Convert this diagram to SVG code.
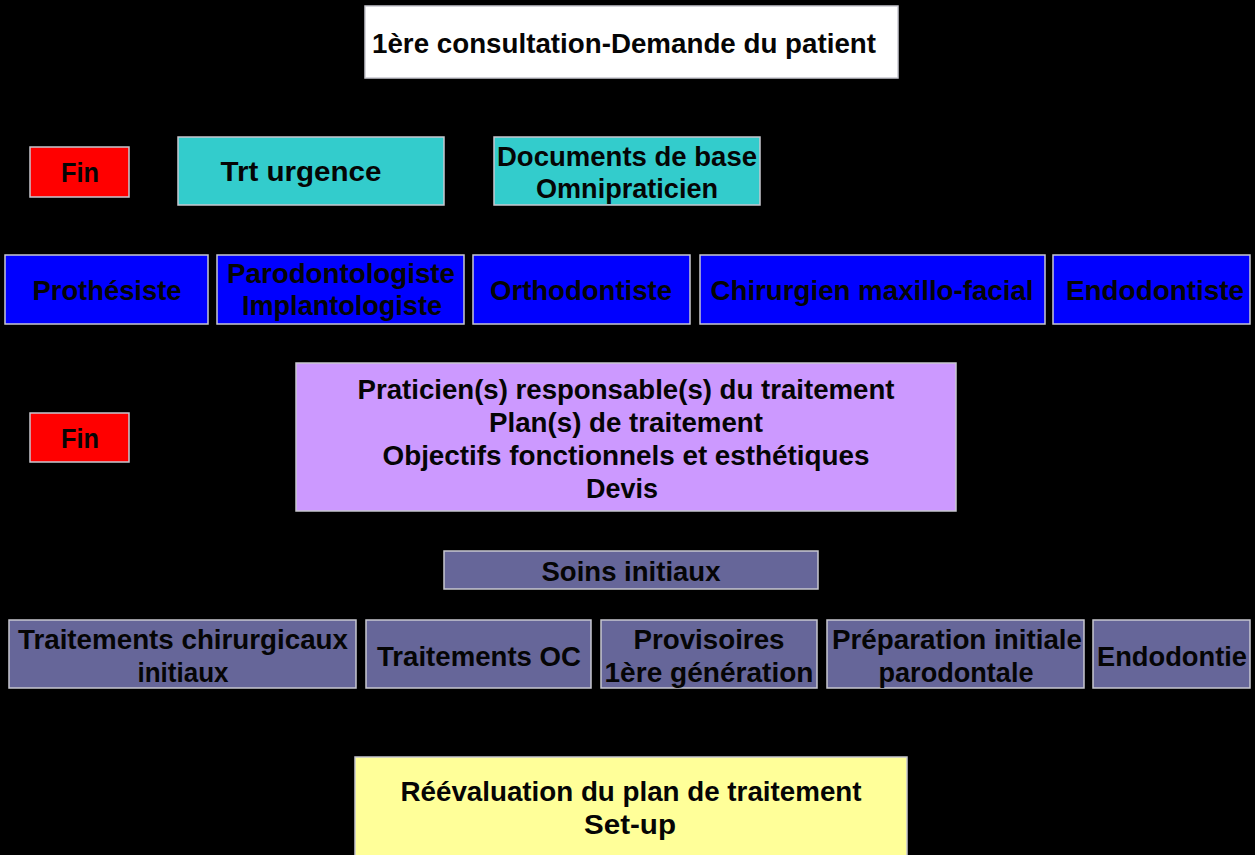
<svg xmlns="http://www.w3.org/2000/svg" width="1255" height="855" viewBox="0 0 1255 855">
<style>
.b{stroke:#c8c8d0;stroke-width:1.5}
.t{font-family:"Liberation Sans",Arial,sans-serif;font-weight:bold;font-size:28px;fill:#050505;text-anchor:middle}
.w{fill:#ffffff}.r{fill:#ff0000}.c{fill:#33cccc}.bl{fill:#0000ff}.p{fill:#cc99ff}.s{fill:#666699}.y{fill:#ffff99}
</style>
<rect width="1255" height="855" fill="#000"/>
<g id="connectors"/>
<g id="n-consult"><rect class="b w" x="365" y="6" width="533" height="72"/><text class="t" x="624" y="53" font-size="27" textLength="504" lengthAdjust="spacingAndGlyphs">1ère consultation-Demande du patient</text></g>
<g id="n-fin1"><rect class="b r" x="30" y="147" width="99" height="50"/><text class="t" x="80" y="182" font-size="25" textLength="38" lengthAdjust="spacingAndGlyphs">Fin</text></g>
<g id="n-trt"><rect class="b c" x="178" y="137" width="266" height="68"/><text class="t" x="301" y="181" textLength="161" lengthAdjust="spacingAndGlyphs">Trt urgence</text></g>
<g id="n-docs"><rect class="b c" x="494" y="137" width="266" height="68"/><text class="t" x="627" y="166" textLength="260" lengthAdjust="spacingAndGlyphs">Documents de base</text><text class="t" x="627" y="198" textLength="182" lengthAdjust="spacingAndGlyphs">Omnipraticien</text></g>
<g id="n-prot"><rect class="b bl" x="5" y="255" width="203" height="69"/><text class="t" x="107" y="300" textLength="149" lengthAdjust="spacingAndGlyphs">Prothésiste</text></g>
<g id="n-paro"><rect class="b bl" x="217" y="255" width="247" height="69"/><text class="t" x="341" y="283" textLength="228" lengthAdjust="spacingAndGlyphs">Parodontologiste</text><text class="t" x="342" y="315" textLength="200" lengthAdjust="spacingAndGlyphs">Implantologiste</text></g>
<g id="n-ortho"><rect class="b bl" x="473" y="255" width="217" height="69"/><text class="t" x="581" y="300" textLength="182" lengthAdjust="spacingAndGlyphs">Orthodontiste</text></g>
<g id="n-chir"><rect class="b bl" x="700" y="255" width="345" height="69"/><text class="t" x="872" y="300" textLength="323" lengthAdjust="spacingAndGlyphs">Chirurgien maxillo-facial</text></g>
<g id="n-endo1"><rect class="b bl" x="1053" y="255" width="197" height="69"/><text class="t" x="1155" y="300" textLength="178" lengthAdjust="spacingAndGlyphs">Endodontiste</text></g>
<g id="n-fin2"><rect class="b r" x="30" y="413" width="99" height="49"/><text class="t" x="80" y="448" font-size="25" textLength="38" lengthAdjust="spacingAndGlyphs">Fin</text></g>
<g id="n-prat"><rect class="b p" x="296" y="363" width="660" height="148"/><text class="t" x="626" y="399" textLength="537" lengthAdjust="spacingAndGlyphs">Praticien(s) responsable(s) du traitement</text><text class="t" x="626" y="432" textLength="274" lengthAdjust="spacingAndGlyphs">Plan(s) de traitement</text><text class="t" x="626" y="465" textLength="487" lengthAdjust="spacingAndGlyphs">Objectifs fonctionnels et esthétiques</text><text class="t" x="622" y="498" textLength="72" lengthAdjust="spacingAndGlyphs">Devis</text></g>
<g id="n-soins"><rect class="b s" x="444" y="551" width="374" height="38"/><text class="t" x="631" y="581" textLength="179" lengthAdjust="spacingAndGlyphs">Soins initiaux</text></g>
<g id="n-tchir"><rect class="b s" x="9" y="620" width="347" height="68"/><text class="t" x="183" y="649" textLength="330" lengthAdjust="spacingAndGlyphs">Traitements chirurgicaux</text><text class="t" x="183" y="682" textLength="91" lengthAdjust="spacingAndGlyphs">initiaux</text></g>
<g id="n-toc"><rect class="b s" x="366" y="620" width="225" height="68"/><text class="t" x="479" y="666" textLength="204" lengthAdjust="spacingAndGlyphs">Traitements OC</text></g>
<g id="n-prov"><rect class="b s" x="601" y="620" width="216" height="68"/><text class="t" x="709" y="649" textLength="151" lengthAdjust="spacingAndGlyphs">Provisoires</text><text class="t" x="709" y="682" textLength="209" lengthAdjust="spacingAndGlyphs">1ère génération</text></g>
<g id="n-prep"><rect class="b s" x="827" y="620" width="257" height="68"/><text class="t" x="957" y="649" textLength="250" lengthAdjust="spacingAndGlyphs">Préparation initiale</text><text class="t" x="956" y="682" textLength="155" lengthAdjust="spacingAndGlyphs">parodontale</text></g>
<g id="n-endo2"><rect class="b s" x="1093" y="620" width="157" height="68"/><text class="t" x="1172" y="666" textLength="150" lengthAdjust="spacingAndGlyphs">Endodontie</text></g>
<g id="n-reeval"><rect class="b y" x="355" y="757" width="552" height="105"/><text class="t" x="631" y="801" textLength="461" lengthAdjust="spacingAndGlyphs">Réévaluation du plan de traitement</text><text class="t" x="630" y="834" textLength="92" lengthAdjust="spacingAndGlyphs">Set-up</text></g>
</svg>
